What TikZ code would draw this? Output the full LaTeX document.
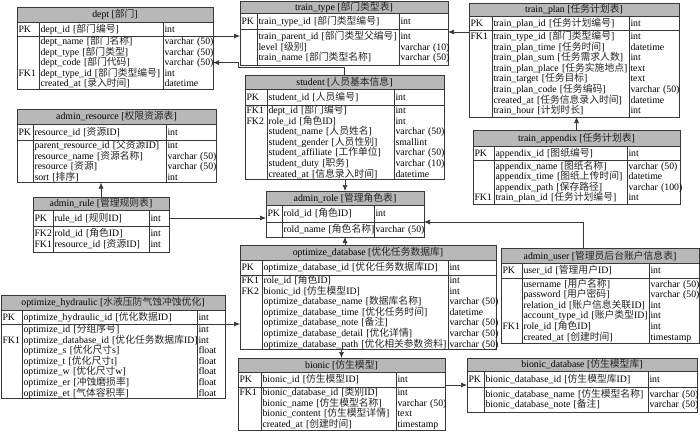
\documentclass[tikz,border=0pt]{standalone}
\usepackage{fontspec}
\setmainfont{Liberation Serif}
\newfontfamily\cjk{Noto Sans CJK SC}
\usepackage{tikz}
\usetikzlibrary{arrows.meta,positioning}

\definecolor{hdrgray}{gray}{0.72}
\definecolor{linec}{gray}{0.22}
\newcommand{\zh}[1]{{\cjk\color{black!85}#1}}
\newcommand{\tabfont}{\fontsize{9.8}{10.6}\selectfont\lineskiplimit=-10pt\relax}

\begin{document}
\begin{tikzpicture}[
    x=1pt, y=-1pt,
    >=Latex,
    hdr/.style={draw=linec, fill=hdrgray, line width=0.7pt, inner sep=0pt, outer sep=0pt, anchor=north west, font=\tabfont},
    cell/.style={draw=linec, line width=0.7pt, inner xsep=1.5pt, inner ysep=0pt, outer sep=0pt, align=left, font=\tabfont,
        execute at begin node={\rule{0pt}{8.4pt}}, execute at end node={\rule[-2.4pt]{0pt}{2.4pt}}},
    arrow/.style={-{Latex[length=6pt,width=5pt]}, linec, line width=0.7pt}
]
\useasboundingbox (0,0) rectangle (700,432);

% dept
\node[hdr, minimum width=196, minimum height=15] (dept) at (17,7) {dept [\zh{部门}]};
\node[cell, text width=19, minimum height=14, below right=0pt of dept.south west] (dept-k) {PK};
\node[cell, text width=121, minimum height=14, right=0pt of dept-k] (dept-f) {dept\_id~[\zh{部门编号}]};
\node[cell, text width=47, minimum height=14, right=0pt of dept-f] (dept-t) {int};
\node[cell, text width=19, minimum height=53, below=0pt of dept-k] (dept-kb) {\mbox{}\\\mbox{}\\\mbox{}\\FK1\\\mbox{}};
\node[cell, text width=121, minimum height=53, below=0pt of dept-f] (dept-fb) {dept\_name~[\zh{部门名称}]\\dept\_type~[\zh{部门类型}]\\dept\_code~[\zh{部门代码}]\\dept\_type\_id~[\zh{部门类型编号}]\\created\_at~[\zh{录入时间}]};
\node[cell, text width=47, minimum height=53, below=0pt of dept-t] (dept-tb) {varchar~(50)\\varchar~(50)\\varchar~(50)\\int\\datetime};

% train_type
\node[hdr, minimum width=208, minimum height=12.5] (ttype) at (240,1) {train\_type [\zh{部门类型表}]};
\node[cell, text width=14, minimum height=16, below right=0pt of ttype.south west] (ttype-k) {PK};
\node[cell, text width=139, minimum height=16, right=0pt of ttype-k] (ttype-f) {train\_type\_id~[\zh{部门类型编号}]};
\node[cell, text width=46, minimum height=16, right=0pt of ttype-f] (ttype-t) {int};
\node[cell, text width=14, minimum height=35.5, below=0pt of ttype-k] (ttype-kb) {};
\node[cell, text width=139, minimum height=35.5, below=0pt of ttype-f] (ttype-fb) {train\_parent\_id~[\zh{部门类型父编号}]\\level~[\zh{级别}]\\train\_name~[\zh{部门类型名称}]};
\node[cell, text width=46, minimum height=35.5, below=0pt of ttype-t] (ttype-tb) {int\\varchar~(10)\\varchar~(50)};

% train_plan
\node[hdr, minimum width=210, minimum height=13] (tplan) at (469,3) {train\_plan [\zh{任务计划表}]};
\node[cell, text width=20, minimum height=14, below right=0pt of tplan.south west] (tplan-k) {PK};
\node[cell, text width=134, minimum height=14, right=0pt of tplan-k] (tplan-f) {train\_plan\_id~[\zh{任务计划编号}]};
\node[cell, text width=47, minimum height=14, right=0pt of tplan-f] (tplan-t) {int};
\node[cell, text width=20, minimum height=87, below=0pt of tplan-k] (tplan-kb) {FK1\\\mbox{}\\\mbox{}\\\mbox{}\\\mbox{}\\\mbox{}\\\mbox{}\\\mbox{}};
\node[cell, text width=134, minimum height=87, below=0pt of tplan-f] (tplan-fb) {train\_type\_id~[\zh{部门类型编号}]\\train\_plan\_time~[\zh{任务时间}]\\train\_plan\_sum~[\zh{任务需求人数}]\\train\_plan\_place~[\zh{任务实施地点}]\\train\_target~[\zh{任务目标}]\\train\_plan\_code~[\zh{任务编码}]\\created\_at~[\zh{任务信息录入时间}]\\train\_hour~[\zh{计划时长}]};
\node[cell, text width=47, minimum height=87, below=0pt of tplan-t] (tplan-tb) {int\\datetime\\int\\text\\text\\varchar~(50)\\datetime\\int};

% train_appendix
\node[hdr, minimum width=207, minimum height=16] (tapp) at (473,130) {train\_appendix [\zh{任务计划表}]};
\node[cell, text width=18, minimum height=14, below right=0pt of tapp.south west] (tapp-k) {PK};
\node[cell, text width=130, minimum height=14, right=0pt of tapp-k] (tapp-f) {appendix\_id~[\zh{图纸编号}]};
\node[cell, text width=50, minimum height=14, right=0pt of tapp-f] (tapp-t) {int};
\node[cell, text width=18, minimum height=44, below=0pt of tapp-k] (tapp-kb) {\mbox{}\\\mbox{}\\\mbox{}\\FK1};
\node[cell, text width=130, minimum height=44, below=0pt of tapp-f] (tapp-fb) {appendix\_name~[\zh{图纸名称}]\\appendix\_time~[\zh{图纸上传时间}]\\appendix\_path~[\zh{保存路径}]\\train\_plan\_id~[\zh{任务计划编号}]};
\node[cell, text width=50, minimum height=44, below=0pt of tapp-t] (tapp-tb) {varchar~(50)\\datetime\\varchar~(100)\\int};

% admin_resource
\node[hdr, minimum width=199, minimum height=15] (ares) at (17,109) {admin\_resource [\zh{权限资源表}]};
\node[cell, text width=13, minimum height=16, below right=0pt of ares.south west] (ares-k) {PK};
\node[cell, text width=130, minimum height=16, right=0pt of ares-k] (ares-f) {resource\_id~[\zh{资源}ID]};
\node[cell, text width=47, minimum height=16, right=0pt of ares-f] (ares-t) {int};
\node[cell, text width=13, minimum height=42, below=0pt of ares-k] (ares-kb) {};
\node[cell, text width=130, minimum height=42, below=0pt of ares-f] (ares-fb) {parent\_resource\_id~[\zh{父资源}ID]\\resource\_name~[\zh{资源名称}]\\resource~[\zh{资源}]\\sort~[\zh{排序}]};
\node[cell, text width=47, minimum height=42, below=0pt of ares-t] (ares-tb) {int\\varchar~(50)\\varchar~(50)\\int};

% admin_rule
\node[hdr, minimum width=136, minimum height=13] (arule) at (33,197) {admin\_rule [\zh{管理规则表}]};
\node[cell, text width=17, minimum height=16, below right=0pt of arule.south west] (arule-k) {PK};
\node[cell, text width=93, minimum height=16, right=0pt of arule-k] (arule-f) {rule\_id~[\zh{规则}ID]};
\node[cell, text width=17, minimum height=16, right=0pt of arule-f] (arule-t) {int};
\node[cell, text width=17, minimum height=26, below=0pt of arule-k] (arule-kb) {FK2\\FK1};
\node[cell, text width=93, minimum height=26, below=0pt of arule-f] (arule-fb) {rold\_id~[\zh{角色}ID]\\resource\_id~[\zh{资源}ID]};
\node[cell, text width=17, minimum height=26, below=0pt of arule-t] (arule-tb) {int\\int};

% student
\node[hdr, minimum width=199, minimum height=14] (student) at (245,75) {student [\zh{人员基本信息}]};
\node[cell, text width=19, minimum height=16, below right=0pt of student.south west] (student-k) {PK};
\node[cell, text width=124, minimum height=16, right=0pt of student-k] (student-f) {student\_id~[\zh{人员编号}]};
\node[cell, text width=47, minimum height=16, right=0pt of student-f] (student-t) {int};
\node[cell, text width=19, minimum height=74, below=0pt of student-k] (student-kb) {FK1\\FK2\\\mbox{}\\\mbox{}\\\mbox{}\\\mbox{}\\\mbox{}};
\node[cell, text width=124, minimum height=74, below=0pt of student-f] (student-fb) {dept\_id~[\zh{部门编号}]\\role\_id~[\zh{角色}ID]\\student\_name~[\zh{人员姓名}]\\student\_gender~[\zh{人员性别}]\\student\_affiliate~[\zh{工作单位}]\\student\_duty~[\zh{职务}]\\created\_at~[\zh{信息录入时间}]};
\node[cell, text width=47, minimum height=74, below=0pt of student-t] (student-tb) {int\\int\\varchar~(50)\\smallint\\varchar~(50)\\varchar~(10)\\datetime};

% admin_role
\node[hdr, minimum width=158, minimum height=14] (arole) at (266,191) {admin\_role [\zh{管理角色表}]};
\node[cell, text width=13, minimum height=17, below right=0pt of arole.south west] (arole-k) {PK};
\node[cell, text width=89, minimum height=17, right=0pt of arole-k] (arole-f) {rold\_id~[\zh{角色}ID]};
\node[cell, text width=47, minimum height=17, right=0pt of arole-f] (arole-t) {int};
\node[cell, text width=13, minimum height=15, below=0pt of arole-k] (arole-kb) {};
\node[cell, text width=89, minimum height=15, below=0pt of arole-f] (arole-fb) {rold\_name~[\zh{角色名称}]};
\node[cell, text width=47, minimum height=15, below=0pt of arole-t] (arole-tb) {varchar~(50)};

% admin_user
\node[hdr, minimum width=198, minimum height=15] (auser) at (501,248) {admin\_user [\zh{管理员后台账户信息表}]};
\node[cell, text width=18, minimum height=15, below right=0pt of auser.south west] (auser-k) {PK};
\node[cell, text width=124, minimum height=15, right=0pt of auser-k] (auser-f) {user\_id~[\zh{管理用户}ID]};
\node[cell, text width=47, minimum height=15, right=0pt of auser-f] (auser-t) {int};
\node[cell, text width=18, minimum height=65, below=0pt of auser-k] (auser-kb) {\mbox{}\\\mbox{}\\\mbox{}\\\mbox{}\\FK1\\\mbox{}};
\node[cell, text width=124, minimum height=65, below=0pt of auser-f] (auser-fb) {username~[\zh{用户名称}]\\password~[\zh{用户密码}]\\relation\_id~[\zh{账户信息关联}ID]\\account\_type\_id~[\zh{账户类型}ID]\\role\_id~[\zh{角色}ID]\\created\_at~[\zh{创建时间}]};
\node[cell, text width=47, minimum height=65, below=0pt of auser-t] (auser-tb) {varchar~(50)\\varchar~(50)\\int\\int\\int\\timestamp};

% optimize_database
\node[hdr, minimum width=256, minimum height=15] (odb) at (240,245) {optimize\_database [\zh{优化任务数据库}]};
\node[cell, text width=19, minimum height=15, below right=0pt of odb.south west] (odb-k) {PK};
\node[cell, text width=183, minimum height=15, right=0pt of odb-k] (odb-f) {optimize\_database\_id~[\zh{优化任务数据库}ID]};
\node[cell, text width=45, minimum height=15, right=0pt of odb-f] (odb-t) {int};
\node[cell, text width=19, minimum height=72, below=0pt of odb-k] (odb-kb) {FK1\\FK2\\\mbox{}\\\mbox{}\\\mbox{}\\\mbox{}\\\mbox{}};
\node[cell, text width=183, minimum height=72, below=0pt of odb-f] (odb-fb) {role\_id~[\zh{角色}ID]\\bionic\_id~[\zh{仿生模型}ID]\\optimize\_database\_name~[\zh{数据库名称}]\\optimize\_database\_time~[\zh{优化任务时间}]\\optimize\_database\_note~[\zh{备注}]\\optimize\_database\_detail~[\zh{优化详情}]\\optimize\_database\_path~[\zh{优化相关参数资料}]};
\node[cell, text width=45, minimum height=72, below=0pt of odb-t] (odb-tb) {int\\int\\varchar~(50)\\datetime\\varchar~(50)\\varchar~(50)\\varchar~(50)};

% optimize_hydraulic
\node[hdr, minimum width=224, minimum height=15] (ohyd) at (1,295) {optimize\_hydraulic [\zh{水液压防气蚀冲蚀优化}]};
\node[cell, text width=18, minimum height=14, below right=0pt of ohyd.south west] (ohyd-k) {PK};
\node[cell, text width=172, minimum height=14, right=0pt of ohyd-k] (ohyd-f) {optimize\_hydraulic\_id~[\zh{优化数据}ID]};
\node[cell, text width=25, minimum height=14, right=0pt of ohyd-f] (ohyd-t) {int};
\node[cell, text width=18, minimum height=73, below=0pt of ohyd-k] (ohyd-kb) {\mbox{}\\FK1\\\mbox{}\\\mbox{}\\\mbox{}\\\mbox{}\\\mbox{}};
\node[cell, text width=172, minimum height=73, below=0pt of ohyd-f] (ohyd-fb) {optimize\_id~[\zh{分组序号}]\\optimize\_database\_id~[\zh{优化任务数据库}ID]\\optimize\_s~[\zh{优化尺寸}s]\\optimize\_t~[\zh{优化尺寸}t]\\optimize\_w~[\zh{优化尺寸}w]\\optimize\_er~[\zh{冲蚀磨损率}]\\optimize\_et~[\zh{气体容积率}]};
\node[cell, text width=25, minimum height=73, below=0pt of ohyd-t] (ohyd-tb) {int\\int\\float\\float\\float\\float\\float};

% bionic
\node[hdr, minimum width=207, minimum height=14] (bionic) at (238,358) {bionic [\zh{仿生模型}]};
\node[cell, text width=20, minimum height=15, below right=0pt of bionic.south west] (bionic-k) {PK};
\node[cell, text width=132, minimum height=15, right=0pt of bionic-k] (bionic-f) {bionic\_id~[\zh{仿生模型}ID]};
\node[cell, text width=46, minimum height=15, right=0pt of bionic-f] (bionic-t) {int};
\node[cell, text width=20, minimum height=43, below=0pt of bionic-k] (bionic-kb) {FK1\\\mbox{}\\\mbox{}\\\mbox{}};
\node[cell, text width=132, minimum height=43, below=0pt of bionic-f] (bionic-fb) {bionic\_database\_id~[\zh{类别}ID]\\bionic\_name~[\zh{仿生模型名称}]\\bionic\_content~[\zh{仿生模型详情}]\\created\_at~[\zh{创建时间}]};
\node[cell, text width=46, minimum height=43, below=0pt of bionic-t] (bionic-tb) {int\\varchar~(50)\\text\\timestamp};

% bionic_database
\node[hdr, minimum width=230, minimum height=13] (bdb) at (467,358) {bionic\_database [\zh{仿生模型库}]};
\node[cell, text width=14, minimum height=16, below right=0pt of bdb.south west] (bdb-k) {PK};
\node[cell, text width=161, minimum height=16, right=0pt of bdb-k] (bdb-f) {bionic\_database\_id~[\zh{仿生模型库}ID]};
\node[cell, text width=46, minimum height=16, right=0pt of bdb-f] (bdb-t) {int};
\node[cell, text width=14, minimum height=25, below=0pt of bdb-k] (bdb-kb) {};
\node[cell, text width=161, minimum height=25, below=0pt of bdb-f] (bdb-fb) {bionic\_database\_name~[\zh{仿生模型名称}]\\bionic\_database\_note~[\zh{备注}]};
\node[cell, text width=46, minimum height=25, below=0pt of bdb-t] (bdb-tb) {varchar~(50)\\varchar~(50)};

% links
\draw[arrow] (dept-tb.north east) -- (dept-tb.north east -| ttype-kb.west);
\draw[arrow] (student.north) -- ++(0,-8) -| ([xshift=25pt]dept-tb.east) -- (dept-tb.east);
\coordinate (plan-in) at ([yshift=-2pt]tplan-kb.north west);
\draw[arrow] (plan-in) -- (plan-in -| ttype-tb.east);
\draw[arrow] (tapp.north) -- (tapp.north |- tplan-fb.south);
\draw[arrow] (arule.north) -- (arule.north |- ares-fb.south);
\draw[arrow] (arule-t.east) -- (arule-t.east -| arole-k.west);
\draw[arrow] (arole.north |- student-fb.south) -- (arole.north);
\draw[arrow] ([xshift=-17pt]auser.north) |- (arole-tb.north east);
\draw[arrow] (arole.north |- odb.north) -- (arole.north |- arole-fb.south);
\draw[arrow] (ohyd-tb.north east) -- (ohyd-tb.north east -| odb-k.west);
\draw[arrow] (bionic.north |- odb-fb.south) -- (bionic.north);
\coordinate (bio-out) at ([yshift=2pt]bionic-tb.north east);
\draw[arrow] (bio-out) -- (bio-out -| bdb-k.west);
\end{tikzpicture}
\end{document}
